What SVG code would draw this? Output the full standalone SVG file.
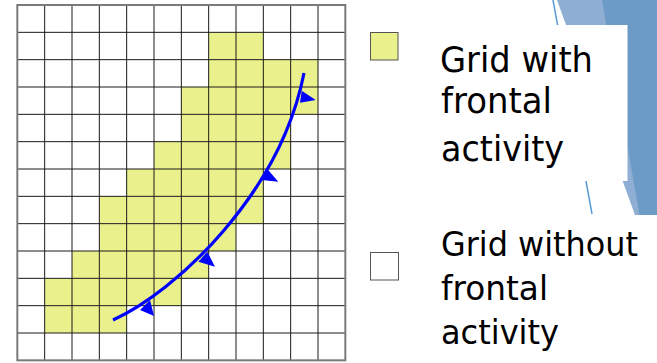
<svg xmlns="http://www.w3.org/2000/svg" width="657" height="363" viewBox="0 0 657 363">
<style>
.cell{fill:#EAF18C;}
.grid{fill:none;stroke:#1a1a1a;stroke-width:1;}
.border{fill:none;stroke:#7a7a7a;stroke-width:2;}
.front{fill:none;stroke:#0000FF;stroke-width:3.2;stroke-linecap:butt;}
.tri{fill:#0000FF;}
.lbl{font-family:"DejaVu Sans","Open Sans","Liberation Sans",sans-serif;fill:#000;}
.key{stroke:#555;stroke-width:1;}
</style>
<rect width="657" height="363" fill="#fff"/>
<g id="decoration">
<polygon points="557,0 657,0 657,215 635,215" fill="#8EAED3"/>
<polygon points="602,0 657,0 657,215 639.5,215" fill="#6C9BC7"/>
<line x1="553" y1="0" x2="592" y2="214" stroke="#5B9BD5" stroke-width="1.5"/>
<rect x="420" y="25" width="207.5" height="156" fill="#fff"/>
</g>
<g id="grid">
<rect class="cell" x="208.67" y="32.33" width="54.67" height="27.33"/>
<rect class="cell" x="208.67" y="59.67" width="109.33" height="27.33"/>
<rect class="cell" x="181.33" y="87" width="136.67" height="27.33"/>
<rect class="cell" x="181.33" y="114.33" width="109.33" height="27.33"/>
<rect class="cell" x="154" y="141.67" width="136.67" height="27.33"/>
<rect class="cell" x="126.67" y="169" width="136.67" height="27.33"/>
<rect class="cell" x="99.33" y="196.33" width="164" height="27.33"/>
<rect class="cell" x="99.33" y="223.67" width="136.67" height="27.33"/>
<rect class="cell" x="72" y="251" width="136.67" height="27.33"/>
<rect class="cell" x="44.67" y="278.33" width="136.67" height="27.33"/>
<rect class="cell" x="44.67" y="305.67" width="82" height="27.33"/>
<path class="grid" d="M44.67,5V360.33M72,5V360.33M99.33,5V360.33M126.67,5V360.33M154,5V360.33M181.33,5V360.33M208.67,5V360.33M236,5V360.33M263.33,5V360.33M290.67,5V360.33M318,5V360.33
M17.33,32.33H345.33M17.33,59.67H345.33M17.33,87H345.33M17.33,114.33H345.33M17.33,141.67H345.33M17.33,169H345.33M17.33,196.33H345.33M17.33,223.67H345.33M17.33,251H345.33M17.33,278.33H345.33M17.33,305.67H345.33M17.33,333H345.33"/>
<rect class="border" x="17.33" y="5" width="328" height="355.33"/>
</g>
<g id="connectors">
<path class="front" d="M113,320 C175,292 280,195 304,73"/>
<polygon class="tri" points="301.7,90.7 315.7,100 300,102.7"/>
<polygon class="tri" points="266.7,168.3 278.3,181.7 261.7,180"/>
<polygon class="tri" points="207.3,251.7 215,266.7 198.3,261.7"/>
<polygon class="tri" points="150,300 154,316 140,310"/>
</g>
<g id="legend-with">
<rect class="key" x="370.5" y="32.5" width="27.5" height="27.5" fill="#EAF18C"/>
<text class="lbl" font-size="35" x="440" y="72" textLength="153" lengthAdjust="spacingAndGlyphs">Grid with</text>
<text class="lbl" font-size="35" x="441" y="113.2" textLength="111" lengthAdjust="spacingAndGlyphs">frontal</text>
<text class="lbl" font-size="35" x="441" y="160.5" textLength="123" lengthAdjust="spacingAndGlyphs">activity</text>
</g>
<g id="legend-without">
<rect class="key" x="370.5" y="252.5" width="28" height="27.5" fill="#fff"/>
<text class="lbl" font-size="33" x="441" y="255.7" textLength="197" lengthAdjust="spacingAndGlyphs">Grid without</text>
<text class="lbl" font-size="33" x="441" y="300" textLength="107" lengthAdjust="spacingAndGlyphs">frontal</text>
<text class="lbl" font-size="33" x="441" y="344.3" textLength="118" lengthAdjust="spacingAndGlyphs">activity</text>
</g>
</svg>
